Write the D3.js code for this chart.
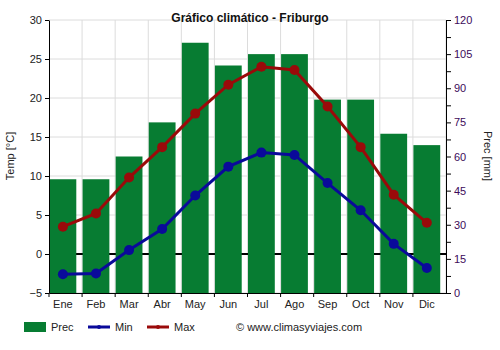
<!DOCTYPE html>
<html><head><meta charset="utf-8">
<script src="https://cdn.jsdelivr.net/npm/d3@7"></script>
<style>body{margin:0;background:#fff}svg{display:block;font-family:"Liberation Sans",Arial,sans-serif}</style>
</head><body>
<script>
const months = ["Ene","Feb","Mar","Abr","May","Jun","Jul","Ago","Sep","Oct","Nov","Dic"];
const prec = [50,50,60,75,110,100,105,105,85,85,70,65];
const tmin = [-2.6,-2.5,0.5,3.2,7.5,11.2,13.0,12.7,9.1,5.6,1.3,-1.8];
const tmax = [3.5,5.2,9.8,13.7,18.0,21.7,24.0,23.6,18.9,13.7,7.6,4.0];
const tempTicks = [-5,0,5,10,15,20,25,30];
const precTicks = [0,15,30,45,60,75,90,105,120];

const W=500,H=350, L=49, R=446, T=20, B=293;
const svg=d3.select("body").append("svg").attr("width",W).attr("height",H);
const x=d3.scaleBand().domain(months).range([L,R]).paddingInner(0).paddingOuter(0);
const yT=d3.scaleLinear().domain([-5,30]).range([B,T]);
const yP=d3.scaleLinear().domain([0,120]).range([B,T]);
const bw=x.bandwidth();

// grid
const g=svg.append("g");
g.selectAll(".hg").data(tempTicks).enter().append("line")
 .attr("x1",L).attr("x2",R).attr("y1",d=>yT(d)).attr("y2",d=>yT(d)).attr("stroke","#dcdcdc");
g.selectAll(".vg").data(months.slice(1).concat(["end"])).enter().append("line")
 .attr("x1",(d,i)=>L+(i+1)*bw).attr("x2",(d,i)=>L+(i+1)*bw).attr("y1",T).attr("y2",B).attr("stroke","#dcdcdc");
// zero line
svg.append("line").attr("x1",L).attr("x2",R).attr("y1",yT(0)).attr("y2",yT(0)).attr("stroke","#000").attr("stroke-width",2);
// bars
svg.selectAll(".bar").data(prec).enter().append("rect")
 .attr("x",(d,i)=>x(months[i])+0.5).attr("width",bw*0.81)
 .attr("y",d=>yP(d)).attr("height",d=>B-yP(d)).attr("fill","#077c32");
const cx=i=>x(months[i])+0.5+bw*0.405;
function series(data,color){
  svg.append("path").datum(data).attr("fill","none").attr("stroke",color).attr("stroke-width",3)
   .attr("d",d3.line().x((d,i)=>cx(i)).y(d=>yT(d)));
  svg.selectAll(null).data(data).enter().append("circle").attr("cx",(d,i)=>cx(i)).attr("cy",d=>yT(d)).attr("r",5).attr("fill",color);
}
series(tmin,"#0a0a9a");
series(tmax,"#9a0a0a");

// axes
const ax=svg.append("g").attr("transform",`translate(${L},0)`)
 .call(d3.axisLeft(yT).tickValues(tempTicks).tickSize(4).tickSizeOuter(0));
ax.select(".domain").attr("stroke","#000");
ax.selectAll("text").attr("font-size",11).attr("fill","#222").attr("font-family","Liberation Sans, Arial, sans-serif");
const minorP=d3.range(0,121,7.5);
const ar=svg.append("g").attr("transform",`translate(${R},0)`)
 .call(d3.axisRight(yP).tickValues(minorP).tickSize(5).tickSizeOuter(0).tickFormat(d=>precTicks.includes(d)?d:""));
ar.selectAll("text").attr("font-size",11).attr("fill","#3c0a5a").attr("font-family","Liberation Sans, Arial, sans-serif");
const axb=svg.append("g").attr("transform",`translate(0,${B})`)
 .call(d3.axisBottom(x).tickSize(4).tickSizeOuter(0));
axb.selectAll(".tick line").attr("transform",`translate(${-bw/2},0)`);
axb.selectAll(".tick text").attr("transform",`translate(${-bw/2+bw*0.405+0.5},0)`).attr("font-size",11).attr("fill","#222").attr("font-family","Liberation Sans, Arial, sans-serif");
axb.select(".domain").attr("stroke","#000");

// titles
svg.append("text").attr("x",250).attr("y",22).attr("text-anchor","middle").attr("font-size",12).attr("font-weight","bold").attr("fill","#111").text("Gráfico climático - Friburgo");
svg.append("text").attr("transform","translate(14,156) rotate(-90)").attr("text-anchor","middle").attr("font-size",11).attr("fill","#222").text("Temp [°C]");
svg.append("text").attr("transform","translate(484,156) rotate(90)").attr("text-anchor","middle").attr("font-size",11).attr("fill","#222").text("Prec [mm]");

// legend
const ly=327;
svg.append("rect").attr("x",24).attr("y",ly-5).attr("width",22).attr("height",10).attr("fill","#077c32");
svg.append("text").attr("x",51).attr("y",ly+4).attr("font-size",11).attr("fill","#222").text("Prec");
[[88,"#0a0a9a","Min"],[147,"#9a0a0a","Max"]].forEach(([lx,c,t])=>{
 svg.append("line").attr("x1",lx).attr("x2",lx+22).attr("y1",ly).attr("y2",ly).attr("stroke",c).attr("stroke-width",3);
 svg.append("circle").attr("cx",lx+11).attr("cy",ly).attr("r",2).attr("fill",c);
 svg.append("text").attr("x",lx+27).attr("y",ly+4).attr("font-size",11).attr("fill","#222").text(t);
});
svg.append("text").attr("x",236).attr("y",ly+4).attr("font-size",11).attr("fill","#222").text("© www.climasyviajes.com");
</script>
</body></html>
